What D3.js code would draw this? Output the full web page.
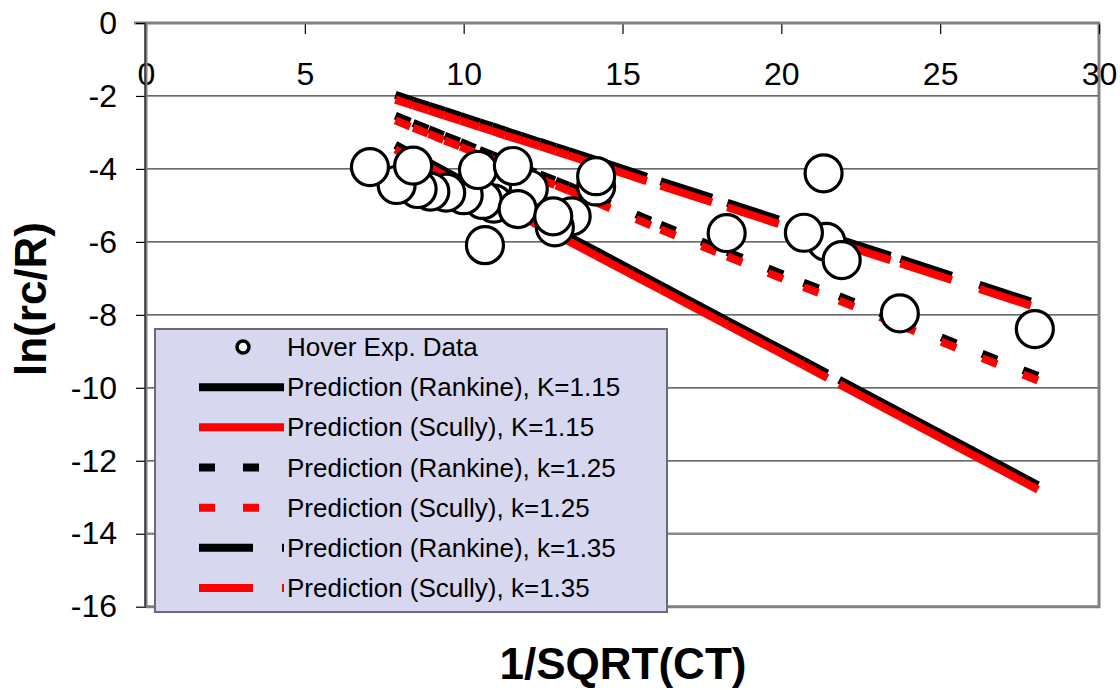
<!DOCTYPE html>
<html>
<head>
<meta charset="utf-8">
<script src="https://cdn.jsdelivr.net/npm/d3@7"></script>
<style>
  html, body { margin: 0; padding: 0; background: #fff; }
  svg { display: block; font-family: "Liberation Sans", Arial, sans-serif; }
</style>
</head>
<body>
<svg id="chart" width="1120" height="690"></svg>
<script>
// Hover experiment: measured vortex core radius (listed in drawing order)
const hoverX = [12.05, 13.4, 12.87, 10.95, 10.6, 10.0, 9.45, 8.95, 8.55, 7.89, 14.17, 11.7, 12.82,
                7.05, 8.41, 10.45, 11.55, 10.67, 14.17,
                21.42, 20.71, 21.9, 18.28, 21.33, 23.73, 27.98];
const hoverY = [-4.55, -5.3, -5.6, -4.95, -4.85, -4.72, -4.65, -4.62, -4.55, -4.44, -4.48, -5.1, -5.3,
                -3.95, -3.91, -4.03, -3.92, -6.09, -4.2,
                -6.0, -5.75, -6.5, -5.76, -4.12, -7.96, -8.39];

// Predicted core radius; null separates the two test groups
const predX = [7.85, 8.41, 8.9, 9.4, 9.9, 10.5, 10.9, 11.3, 11.8, 12.4, 12.9, 13.3, 14.15, 16.2, 18.3,
               20.7, 21.45, 21.6, 21.82, 23.75, 28.08];
const rankine115 = [-3.34, -3.60, -3.82, -4.06, -4.29, -4.56, -4.75, -4.93, -5.16, -5.44, -5.67, -5.85, -6.24,
                    -7.19, -8.16, -9.26, -9.61, null, -9.78, -10.67, -12.67];
const scully115  = [-3.47, -3.73, -3.95, -4.19, -4.42, -4.69, -4.88, -5.06, -5.29, -5.57, -5.80, -5.98, -6.37,
                    -7.31, -8.28, -9.38, -9.73, null, -9.90, -10.79, -12.79];
const rankine125 = [-2.54, -2.74, -2.91, -3.09, -3.26, -3.48, -3.62, -3.76, -3.93, -4.15, -4.32, -4.46, -4.78,
                    -5.53, -6.28, -7.12, -7.37, null, -7.49, -8.17, -9.68];
const scully125  = [-2.67, -2.87, -3.04, -3.22, -3.39, -3.61, -3.75, -3.89, -4.06, -4.28, -4.45, -4.59, -4.91,
                    -5.66, -6.40, -7.24, -7.49, null, -7.61, -8.29, -9.80];
const rankine135 = [-1.97, -2.13, -2.27, -2.41, -2.55, -2.72, -2.83, -2.95, -3.09, -3.26, -3.40, -3.51, -3.75,
                    -4.34, -4.93, -5.61, -5.82, null, -5.93, -6.47, -7.70];
const scully135  = [-2.10, -2.26, -2.40, -2.54, -2.68, -2.85, -2.96, -3.08, -3.21, -3.38, -3.52, -3.63, -3.87,
                    -4.46, -5.05, -5.73, -5.94, null, -6.05, -6.59, -7.81];

const xTicks = [0, 5, 10, 15, 20, 25, 30];
const yTicks = [0, -2, -4, -6, -8, -10, -12, -14, -16];

const legendLabels = [
  "Hover Exp. Data",
  "Prediction (Rankine), K=1.15",
  "Prediction (Scully), K=1.15",
  "Prediction (Rankine), k=1.25",
  "Prediction (Scully), k=1.25",
  "Prediction (Rankine), k=1.35",
  "Prediction (Scully), k=1.35"
];

// line styles for the prediction series
const seriesDefs = [
  { values: rankine115, color: "#000000", dash: null },
  { values: scully115,  color: "#ff0000", dash: null },
  { values: rankine125, color: "#000000", dash: "16 28" },
  { values: scully125,  color: "#ff0000", dash: "16 28" },
  { values: rankine135, color: "#000000", dash: "54 29" },
  { values: scully135,  color: "#ff0000", dash: "54 29" }
];

const svg = d3.select("#chart");
const plotLeft = 146, plotRight = 1099, plotTop = 23, plotBottom = 606.7;
const fontFamily = '"Liberation Sans", Arial, sans-serif';
const plainNumber = d => String(d);   // hyphen-minus, as printed on the axes

const x = d3.scaleLinear().domain([0, 30]).range([plotLeft, plotRight]);
const y = d3.scaleLinear().domain([-16, 0]).range([plotBottom, plotTop]);

// horizontal gridlines
svg.append("g")
  .selectAll("line")
  .data(yTicks.filter(v => v !== 0 && v !== -16))
  .join("line")
  .attr("x1", plotLeft).attr("x2", plotRight)
  .attr("y1", d => y(d)).attr("y2", d => y(d))
  .attr("stroke", d => d === -14 ? "#8a8a8a" : "#3a3a3a")
  .attr("stroke-width", d => d === -14 ? 2.5 : 1.2);

// plot frame (right and bottom)
svg.append("path")
  .attr("d", `M${plotRight},${plotTop}V${plotBottom}H${plotLeft}`)
  .attr("fill", "none").attr("stroke", "#808080").attr("stroke-width", 3);

// prediction lines: each segment drawn on its own so the dash restarts at every point
const lineLayer = svg.append("g");
seriesDefs.forEach(s => {
  const pts = predX.map((xv, i) => [xv, s.values[i]]);
  const segs = d3.pairs(pts).filter(([a, b]) => a[1] != null && b[1] != null);
  lineLayer.append("g")
    .selectAll("line")
    .data(segs)
    .join("line")
    .attr("x1", d => x(d[0][0])).attr("y1", d => y(d[0][1]))
    .attr("x2", d => x(d[1][0])).attr("y2", d => y(d[1][1]))
    .attr("stroke", s.color)
    .attr("stroke-width", 8)
    .attr("stroke-linecap", "butt")
    .attr("stroke-dasharray", s.dash);
});

// experimental points
svg.append("g")
  .selectAll("circle")
  .data(hoverX.map((xv, i) => [xv, hoverY[i]]))
  .join("circle")
  .attr("cx", d => x(d[0])).attr("cy", d => y(d[1]))
  .attr("r", 18.5)
  .attr("fill", "#fff").attr("stroke", "#000").attr("stroke-width", 3.2);

// x axis along ln = 0 with ticks pointing into the plot
const xAxis = svg.append("g")
  .attr("transform", `translate(0,${y(0)})`)
  .call(d3.axisBottom(x).tickValues(xTicks).tickSize(11).tickPadding(28).tickFormat(plainNumber));
xAxis.select(".domain").remove();
xAxis.selectAll(".tick line").attr("stroke", "#000").attr("stroke-width", 1.2);
xAxis.selectAll(".tick text").attr("font-size", 32).attr("fill", "#000").attr("font-family", fontFamily);
svg.append("line")
  .attr("x1", plotLeft - 12).attr("x2", plotRight + 1).attr("y1", y(0)).attr("y2", y(0))
  .attr("stroke", "#808080").attr("stroke-width", 3);

// y axis
const yAxis = svg.append("g")
  .attr("transform", `translate(${plotLeft},0)`)
  .call(d3.axisLeft(y).tickValues(yTicks).tickSize(10).tickPadding(19).tickFormat(plainNumber));
yAxis.select(".domain").remove();
yAxis.selectAll(".tick line").attr("stroke", "#000").attr("stroke-width", 1.2);
yAxis.selectAll(".tick text").attr("font-size", 32).attr("fill", "#000").attr("font-family", fontFamily);
svg.append("line")
  .attr("x1", plotLeft).attr("x2", plotLeft).attr("y1", plotTop).attr("y2", plotBottom)
  .attr("stroke", "#808080").attr("stroke-width", 3);
svg.append("line")
  .attr("x1", plotLeft - 1).attr("x2", plotLeft - 1).attr("y1", plotTop).attr("y2", plotBottom)
  .attr("stroke", "#000").attr("stroke-width", 1);

// axis titles
svg.append("text")
  .attr("x", 623).attr("y", 679)
  .attr("text-anchor", "middle")
  .attr("font-size", 44).attr("font-weight", "bold")
  .text("1/SQRT(CT)");
svg.append("text")
  .attr("transform", "translate(46,299) rotate(-90)")
  .attr("text-anchor", "middle")
  .attr("font-size", 44).attr("font-weight", "bold")
  .text("ln(rc/R)");

// legend
const legend = svg.append("g");
legend.append("rect")
  .attr("x", 155).attr("y", 329).attr("width", 512).attr("height", 283)
  .attr("fill", "#d7d7ef").attr("stroke", "#6a6a7a").attr("stroke-width", 2);

const rowY = d3.scalePoint().domain(d3.range(legendLabels.length)).range([347, 588]);

legend.selectAll("text")
  .data(legendLabels)
  .join("text")
  .attr("x", 287).attr("y", (d, i) => rowY(i) + 9)
  .attr("font-size", 26).attr("fill", "#000")
  .text(d => d);

legend.append("circle")
  .attr("cx", 243).attr("cy", rowY(0)).attr("r", 6)
  .attr("fill", "#fff").attr("stroke", "#000").attr("stroke-width", 3.5);

legend.selectAll("line.swatch")
  .data(seriesDefs)
  .join("line")
  .attr("class", "swatch")
  .attr("x1", 199).attr("x2", 284)
  .attr("y1", (d, i) => rowY(i + 1)).attr("y2", (d, i) => rowY(i + 1))
  .attr("stroke", d => d.color).attr("stroke-width", 8)
  .attr("stroke-dasharray", d => d.dash);
</script>
</body>
</html>
